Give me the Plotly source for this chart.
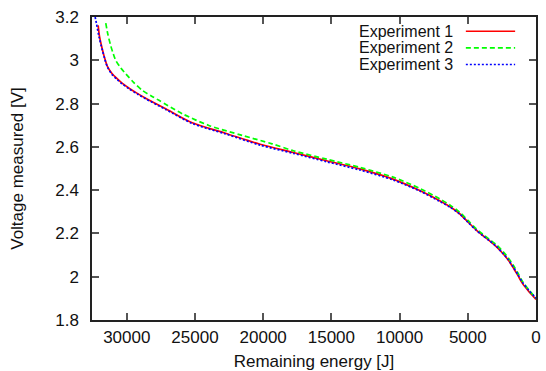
import plotly.graph_objects as go

# Experiment 1 (red, solid)
e1_energy = [32100, 32000, 31790, 31620, 31420, 31100, 30690, 30320, 29830, 29200, 28620, 27150,
             25200, 22770, 20230, 17790, 15350, 12910, 10480, 8520, 7060, 6300, 5600, 4990, 4370,
             3890, 3400, 2910, 2430, 2050, 1700, 1330, 970, 500, 110, 0]
e1_voltage = [3.161, 3.110, 3.050, 3.010, 2.972, 2.940, 2.914, 2.893, 2.871, 2.846, 2.825, 2.776,
              2.711, 2.663, 2.612, 2.574, 2.536, 2.498, 2.451, 2.398, 2.351, 2.323, 2.291, 2.253, 2.215,
              2.190, 2.166, 2.139, 2.107, 2.078, 2.045, 2.006, 1.967, 1.930, 1.903, 1.895]

# Experiment 2 (green, dashed)
e2_energy = [31540, 31380, 31180, 30990, 30810, 30450, 30080, 29500, 28860, 28200, 27640, 25930,
             23980, 21540, 19350, 17790, 15350, 12910, 10480, 8520, 7060, 6300, 5600, 4990, 4370,
             3890, 3400, 2910, 2430, 2050, 1700, 1330, 970, 500, 110, 0]
e2_voltage = [3.172, 3.118, 3.068, 3.030, 3.000, 2.965, 2.938, 2.898, 2.861, 2.835, 2.815, 2.753,
              2.699, 2.653, 2.614, 2.582, 2.543, 2.505, 2.460, 2.408, 2.360, 2.331, 2.298, 2.260, 2.221,
              2.196, 2.172, 2.148, 2.117, 2.089, 2.057, 2.017, 1.976, 1.937, 1.908, 1.900]

# Experiment 3 (blue, dotted)
e3_energy = [32320, 32220, 32030, 31790, 31620, 31420, 31100, 30690, 30320, 29830, 29200, 28620,
             27150, 25200, 22770, 20230, 17790, 15350, 12910, 10480, 8520, 7060, 6300, 5600, 4990,
             4370, 3890, 3400, 2910, 2430, 2050, 1700, 1330, 970, 500, 110, 0]
e3_voltage = [3.200, 3.169, 3.107, 3.046, 3.007, 2.969, 2.936, 2.910, 2.890, 2.868, 2.843, 2.822,
              2.773, 2.708, 2.660, 2.608, 2.570, 2.531, 2.493, 2.447, 2.396, 2.348, 2.321, 2.290, 2.252,
              2.214, 2.189, 2.166, 2.140, 2.108, 2.080, 2.048, 2.010, 1.972, 1.935, 1.908, 1.900]

series_names = ["Experiment 1", "Experiment 2", "Experiment 3"]
x_ticks = [30000, 25000, 20000, 15000, 10000, 5000, 0]
y_ticks = [1.8, 2.0, 2.2, 2.4, 2.6, 2.8, 3.0, 3.2]
y_tick_text = ["1.8", "2", "2.2", "2.4", "2.6", "2.8", "3", "3.2"]

colors = ["#ff0000", "#00ff00", "#0000ff"]
dashes = ["solid", "5px,3px", "2px,2px"]
FONT = "Liberation Sans, Arial, sans-serif"

fig = go.Figure()
for name, xs, ys, c, d in zip(series_names,
                              [e1_energy, e2_energy, e3_energy],
                              [e1_voltage, e2_voltage, e3_voltage],
                              colors, dashes):
    fig.add_trace(go.Scatter(x=xs, y=ys, mode="lines", name=name,
                             line=dict(color=c, width=1.7, dash=d, shape="spline", smoothing=0.8),
                             showlegend=False))

# gnuplot-style key: right-aligned text with line sample on its right
row_y = [0.953, 0.898, 0.843]
for name, c, d, yy in zip(series_names, colors, dashes, row_y):
    fig.add_annotation(x=0.8176, y=yy, xref="paper", yref="paper", text=name,
                       showarrow=False, xanchor="right", yanchor="middle",
                       font=dict(family=FONT, size=16, color="#111111"))
    fig.add_shape(type="line", xref="paper", yref="paper", x0=0.842, x1=0.953, y0=yy, y1=yy,
                  line=dict(color=c, width=1.6, dash=d))

axis_common = dict(showgrid=False, zeroline=False, showline=True, linecolor="#222222",
                   linewidth=1.5, mirror="allticks", ticks="inside", ticklen=7,
                   tickcolor="#555555", tickwidth=1.5, automargin=False,
                   tickfont=dict(family=FONT, size=17, color="#111111"))

fig.update_xaxes(range=[32550, 0], tickvals=x_ticks, ticktext=[str(v) for v in x_ticks],
                 title=dict(text="Remaining energy [J]", font=dict(family=FONT, size=17, color="#111111"),
                            standoff=10),
                 ticklabelstandoff=1, **axis_common)
fig.update_yaxes(range=[1.8, 3.2], tickvals=y_ticks, ticktext=y_tick_text,
                 title=dict(text="Voltage measured [V]", font=dict(family=FONT, size=17, color="#111111"),
                            standoff=27),
                 ticklabelstandoff=8, **axis_common)

fig.update_layout(width=546, height=371, margin=dict(l=92, r=10, t=17, b=51),
                  plot_bgcolor="white", paper_bgcolor="white",
                  font=dict(family=FONT, size=17, color="#111111"))

fig.write_html("out.html", config={"displayModeBar": False},
               post_script="document.body.style.margin='0';")
